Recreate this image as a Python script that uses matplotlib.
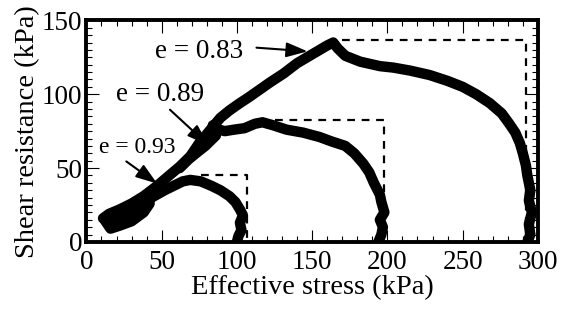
import numpy as np
import matplotlib.pyplot as plt
from matplotlib.ticker import MultipleLocator

# -----------------------------
# DATA
# -----------------------------
# e = 0.83
p_083 = [293, 295, 294, 296, 294, 295, 293, 292, 290, 288, 285, 281, 276, 268,
         259, 250, 240, 228, 215, 204, 195, 182, 172, 167, 164, 160, 150, 140,
         131, 122, 115, 108, 102, 95, 89, 84, 80, 75, 69, 62, 55, 47, 38, 30,
         22, 15, 11]
q_083 = [0, 5, 12, 20, 28, 35, 45, 52, 60, 67, 74, 80, 87, 94,
         100, 105, 109, 113, 116, 118, 119, 122, 126, 131, 135, 133, 127, 121,
         114, 108, 103, 98, 94, 89, 84, 78, 73, 67, 58, 51, 45, 38, 31, 26,
         22, 19, 16]

# e = 0.89
p_089 = [194, 196, 197, 195, 198, 196, 195, 191, 188, 184, 178, 172, 163, 155,
         144, 133, 124, 117, 112, 105, 98, 92, 88, 84, 86, 82, 79, 74, 68, 62]
q_089 = [0, 5, 10, 15, 20, 27, 32, 40, 47, 53, 60, 65, 68, 71,
         74, 76, 79, 81, 80, 77, 76, 75, 76, 79, 72, 68, 65, 61, 56, 50]

# e = 0.93
p_093 = [100, 101, 103, 102, 104, 102, 99, 95, 89, 83, 76, 69, 64, 58, 52, 45,
         38, 31, 24, 17, 12, 16, 22, 30, 38, 42, 34, 26, 18, 24, 32, 20]
q_093 = [0, 4, 8, 13, 18, 22, 27, 31, 35, 38, 41, 42, 41, 38, 35, 31,
         27, 24, 20, 17, 15, 9, 11, 14, 20, 26, 22, 18, 15, 14, 17, 12]

# dashed boxes: (p_start, p_end, q_level)
box_p0 = [76, 125, 170]
box_p1 = [107, 198, 292]
box_q = [45.5, 82.5, 137]

labels = ["e = 0.93", "e = 0.89", "e = 0.83"]
label_xy = [(34, 64), (49, 99.5), (75, 128.6)]
arrow_tail = [(26.5, 54.5), (55.5, 89.5), (113, 131.5)]
arrow_head = [(47, 39.5), (81, 65.5), (147, 129)]
label_size = [17, 19.5, 19.5]

# -----------------------------
# PLOT
# -----------------------------
plt.rcParams['font.family'] = ['Liberation Serif', 'DejaVu Serif']

fig = plt.figure(figsize=(5.65, 3.13), dpi=100)
ax = fig.add_axes([0.153, 0.227, 0.799, 0.708])

for p0, p1, q in zip(box_p0, box_p1, box_q):
    ax.plot([p0, p1, p1], [q, q, 0], color='black', lw=1.6,
            linestyle=(0, (3.5, 3)), zorder=1)

for p, q in [(p_083, q_083), (p_089, q_089), (p_093, q_093)]:
    ax.plot(p, q, color='black', lw=7.5, solid_joinstyle='round',
            solid_capstyle='round', zorder=2)

for txt, xy, tail, head, fs in zip(labels, label_xy, arrow_tail, arrow_head, label_size):
    ax.text(xy[0], xy[1], txt, fontsize=fs, ha='center', va='center')
    ax.annotate("", xy=head, xytext=tail,
                arrowprops=dict(arrowstyle="-|>,head_length=1.3,head_width=0.45",
                                color='black', lw=1.5, shrinkA=0, shrinkB=0))

ax.set_xlim(0, 300)
ax.set_ylim(0, 150)
ax.xaxis.set_major_locator(MultipleLocator(50))
ax.xaxis.set_minor_locator(MultipleLocator(10))
ax.yaxis.set_major_locator(MultipleLocator(50))
ax.yaxis.set_minor_locator(MultipleLocator(5))
ax.tick_params(which='both', direction='in', top=True, right=True,
               labelsize=19.5, width=0.8)
ax.tick_params(which='major', length=9)
ax.tick_params(which='minor', length=4.5)
ax.tick_params(axis='x', pad=6)
ax.tick_params(axis='y', pad=3)
for s in ax.spines.values():
    s.set_linewidth(2.8)

ax.set_xlabel("Effective stress (kPa)", fontsize=20.5, labelpad=0)
ax.set_ylabel("Shear resistance (kPa)", fontsize=20.5, labelpad=1)

plt.savefig("out.png", dpi=100)
